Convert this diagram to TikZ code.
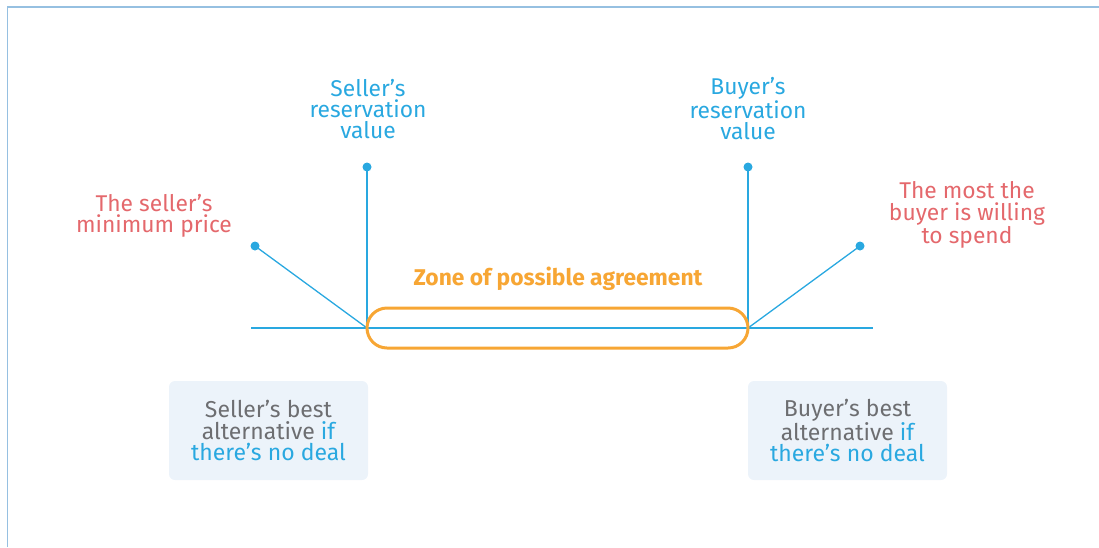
\documentclass[tikz,border=0pt]{standalone}
\usepackage{fontspec}
\setmainfont{Fira Sans}
\usepackage{tikz}
\usetikzlibrary{positioning}
\usepackage{xcolor}
\definecolor{valblue}{RGB}{41,168,224}
\definecolor{pricered}{RGB}{228,104,108}
\definecolor{zopaorange}{RGB}{247,166,52}
\definecolor{altgray}{RGB}{109,110,113}
\definecolor{altfill}{RGB}{236,243,250}
\definecolor{frameblue}{RGB}{150,192,225}

\begin{document}
\begin{tikzpicture}[x=1pt,y=-1pt,
  conn/.style={valblue,line width=1.3pt},
  rdot/.style={circle,fill=valblue,inner sep=0pt,minimum size=9pt},
  lbl/.style={align=center,inner sep=0pt,font=\fontsize{22.8}{21.3}\selectfont},
  altbox/.style={rectangle,rounded corners=6pt,fill=altfill,minimum width=199pt,
                 minimum height=99pt,align=center,text=altgray,
                 font=\fontsize{23}{21.5}\selectfont}]
\useasboundingbox (0,0) rectangle (1099,547);
% frame
\draw[frameblue,line width=1.5pt] (7.5,547) -- (7.5,7) -- (1099,7);
% base line and joints
\coordinate (lend) at (251,328);
\coordinate (rend) at (873,328);
\coordinate (sjoin) at (367,328);
\coordinate (bjoin) at (748,328);
\draw[conn] (lend) -- (rend);
% sticks with dots
\node[rdot] (smin) at (255,246) {};
\node[rdot] (sres) at (367,167) {};
\node[rdot] (bres) at (748,167) {};
\node[rdot] (bmax) at (860,246) {};
\draw[conn] (smin.center) -- (sjoin);
\draw[conn] (sres.center) -- (sjoin);
\draw[conn] (bres.center) -- (bjoin);
\draw[conn] (bmax.center) -- (bjoin);
% zone
\node[draw=zopaorange,line width=3pt,rounded corners=20pt,minimum width=381pt,
      minimum height=40pt] (zopa) at (557.5,328) {};
\node[font=\fontsize{22.8}{24}\selectfont\bfseries,text=zopaorange,inner sep=0pt]
      (zlbl) at (558,279) {Zone of possible agreement};
% labels
\node[lbl,text=valblue] (sreslbl) at (368,109) {Seller’s\\reservation\\value};
\node[lbl,text=valblue] (breslbl) at (748,109) {Buyer’s\\reservation\\value};
\node[lbl,text=pricered] (sminlbl) at (154,216) {The seller’s\\minimum price};
\node[lbl,text=pricered] (bmaxlbl) at (967,215) {The most the\\buyer is willing\\to spend};
% alternatives
\node[altbox] (salt) at (268.5,430.5)
  {Seller’s best\\alternative \textcolor{valblue}{if}\\\textcolor{valblue}{there’s no deal}};
\node[altbox] (balt) at (847.5,430.5)
  {Buyer’s best\\alternative \textcolor{valblue}{if}\\\textcolor{valblue}{there’s no deal}};
\end{tikzpicture}
\end{document}
